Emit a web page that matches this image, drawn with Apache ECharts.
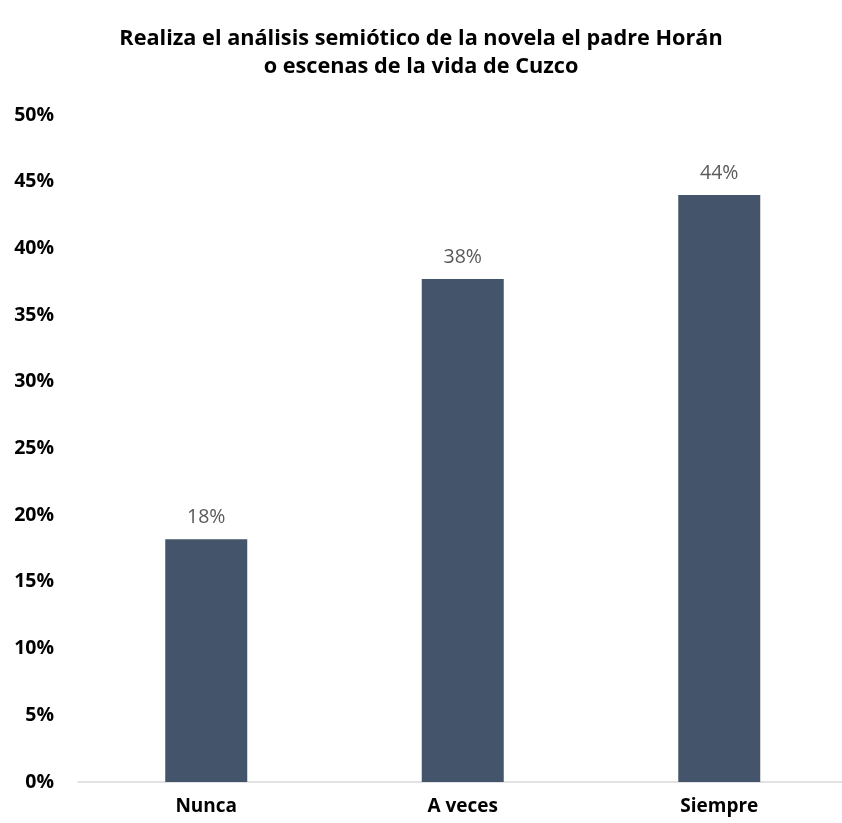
<!DOCTYPE html>
<html><head><meta charset="utf-8">
<script src="https://cdn.jsdelivr.net/npm/echarts@6/dist/echarts.min.js"></script>
<style>html,body{margin:0;padding:0;background:#fff;overflow:hidden}#c{width:856px;height:823px;margin-left:-7px}</style>
</head><body><div id="c"></div>
<script>
var categories = ['Nunca', 'A veces', 'Siempre'];
var values = [18.2, 37.7, 44.0];
var titleText = 'Realiza el análisis semiótico de la novela el padre Horán\no escenas de la vida de Cuzco';

var chart = echarts.init(document.getElementById('c'), null, {renderer: 'canvas'});
chart.setOption({
  animation: false,
  title: {
    text: titleText, left: 'center', top: 20,
    textStyle: {fontFamily: 'Open Sans', fontWeight: 'bold', fontSize: 21.7, color: '#000', lineHeight: 28}
  },
  grid: {left: 85, right: 1.5, top: 115, bottom: 41, containLabel: false},
  xAxis: {
    type: 'category', data: categories,
    axisLine: {lineStyle: {color: '#d9d9d9', width: 1.5}},
    axisTick: {show: false},
    axisLabel: {fontFamily: 'Open Sans', fontWeight: 'bold', fontSize: 19, color: '#000', margin: 15}
  },
  yAxis: {
    type: 'value', min: 0, max: 50, interval: 5,
    splitLine: {show: false},
    axisLabel: {formatter: '{value}%', fontFamily: 'Open Sans', fontWeight: 'bold', fontSize: 19.5, color: '#000', margin: 24}
  },
  series: [{
    type: 'bar', data: values, barWidth: 82,
    itemStyle: {color: '#44546A'},
    label: {show: true, position: 'top', distance: 12, color: '#595959', fontFamily: 'Open Sans', fontSize: 19.5,
      formatter: function(p){return Math.round(p.value) + '%';}}
  }]
});
</script></body></html>
